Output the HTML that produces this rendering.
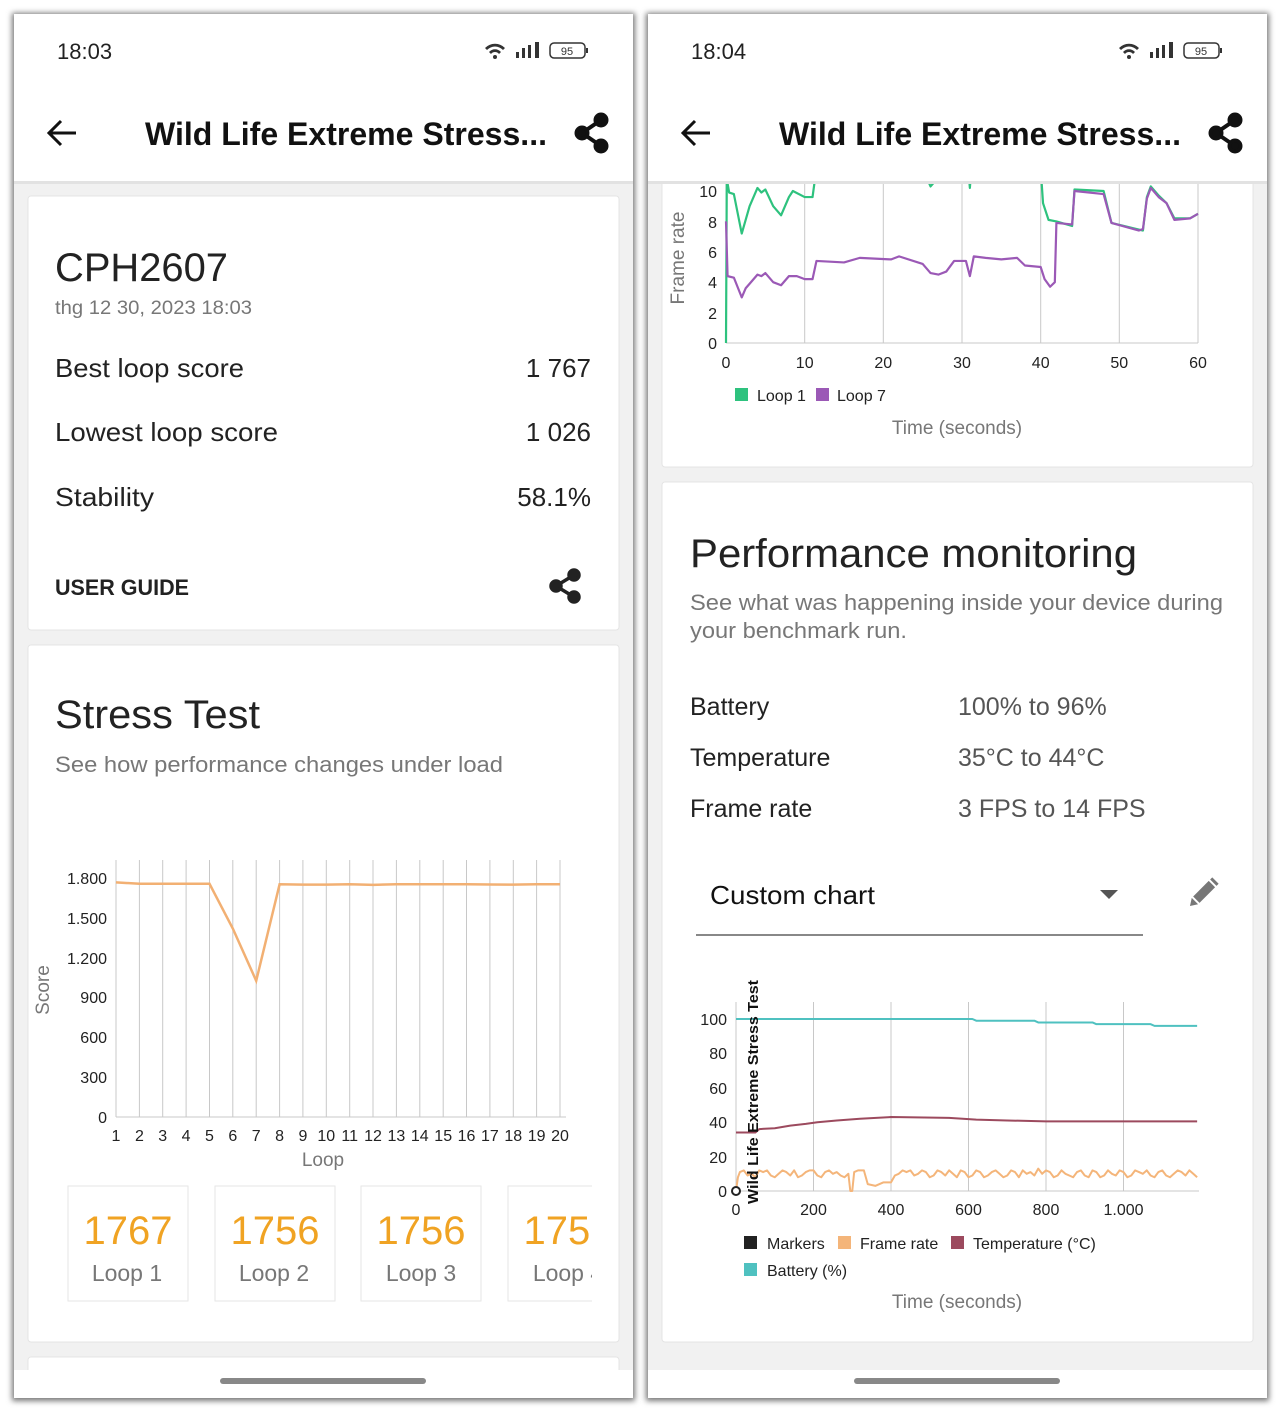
<!DOCTYPE html>
<html><head><meta charset="utf-8"><style>
html,body{margin:0;padding:0;background:#fff;}
svg{display:block;font-family:"Liberation Sans",Arial,sans-serif;}
</style></head><body>
<svg width="1280" height="1412" viewBox="0 0 1280 1412" xmlns="http://www.w3.org/2000/svg">
<defs>
<filter id="sh" x="-5%" y="-5%" width="110%" height="110%"><feGaussianBlur stdDeviation="3"/></filter>
<clipPath id="clipL"><rect x="14" y="181" width="619" height="1189"/></clipPath>
<clipPath id="clipR"><rect x="648" y="181" width="619" height="1189"/></clipPath>
<clipPath id="loopclip"><rect x="40" y="1170" width="552" height="150"/></clipPath>
</defs>
<rect width="1280" height="1412" fill="#fff"/>
<!-- phone frames shadow -->
<rect x="12" y="13" width="623" height="1388" fill="#777" filter="url(#sh)"/>
<rect x="646" y="13" width="623" height="1388" fill="#777" filter="url(#sh)"/>
<rect x="14" y="14" width="619" height="1384" fill="#f1f1f1"/>
<rect x="648" y="14" width="619" height="1384" fill="#f1f1f1"/>

<!-- ============ LEFT PHONE ============ -->
<g clip-path="url(#clipL)">
<rect x="28" y="196" width="591" height="434" rx="3" fill="#fff" stroke="#e4e4e4"/>
<text x="55" y="281" font-size="40" fill="#222" textLength="173" lengthAdjust="spacingAndGlyphs">CPH2607</text>
<text x="55" y="314" font-size="19" fill="#777" textLength="197" lengthAdjust="spacingAndGlyphs">thg 12 30, 2023 18:03</text>
<text x="55" y="377" font-size="26" fill="#222" textLength="189" lengthAdjust="spacingAndGlyphs">Best loop score</text>
<text x="591" y="377" font-size="26" fill="#222" text-anchor="end">1 767</text>
<text x="55" y="441" font-size="26" fill="#222" textLength="223" lengthAdjust="spacingAndGlyphs">Lowest loop score</text>
<text x="591" y="441" font-size="26" fill="#222" text-anchor="end">1 026</text>
<text x="55" y="506" font-size="26" fill="#222" textLength="99" lengthAdjust="spacingAndGlyphs">Stability</text>
<text x="591" y="506" font-size="26" fill="#222" text-anchor="end">58.1%</text>
<text x="55" y="595" font-size="22" font-weight="bold" fill="#222" textLength="134" lengthAdjust="spacingAndGlyphs">USER GUIDE</text>
<g fill="#222" stroke="#222" stroke-width="3.5"><line x1="574" y1="575" x2="556" y2="586"/><line x1="556" y1="586" x2="574" y2="597"/><circle cx="574" cy="575" r="5"/><circle cx="556" cy="586" r="5"/><circle cx="574" cy="597" r="5"/></g>

<rect x="28" y="645" width="591" height="697" rx="3" fill="#fff" stroke="#e4e4e4"/>
<text x="55" y="728" font-size="40" fill="#222" textLength="205" lengthAdjust="spacingAndGlyphs">Stress Test</text>
<text x="55" y="772" font-size="22" fill="#777" textLength="448" lengthAdjust="spacingAndGlyphs">See how performance changes under load</text>
<!-- score chart -->
<g stroke="#c8c8c8" stroke-width="1">
<line x1="116" y1="860" x2="116" y2="1117"/><line x1="139.4" y1="860" x2="139.4" y2="1117"/><line x1="162.7" y1="860" x2="162.7" y2="1117"/><line x1="186.1" y1="860" x2="186.1" y2="1117"/><line x1="209.5" y1="860" x2="209.5" y2="1117"/><line x1="232.8" y1="860" x2="232.8" y2="1117"/><line x1="256.2" y1="860" x2="256.2" y2="1117"/><line x1="279.6" y1="860" x2="279.6" y2="1117"/><line x1="302.9" y1="860" x2="302.9" y2="1117"/><line x1="326.3" y1="860" x2="326.3" y2="1117"/><line x1="349.7" y1="860" x2="349.7" y2="1117"/><line x1="373" y1="860" x2="373" y2="1117"/><line x1="396.4" y1="860" x2="396.4" y2="1117"/><line x1="419.8" y1="860" x2="419.8" y2="1117"/><line x1="443.2" y1="860" x2="443.2" y2="1117"/><line x1="466.5" y1="860" x2="466.5" y2="1117"/><line x1="489.9" y1="860" x2="489.9" y2="1117"/><line x1="513.3" y1="860" x2="513.3" y2="1117"/><line x1="536.6" y1="860" x2="536.6" y2="1117"/><line x1="560" y1="860" x2="560" y2="1117"/>
<line x1="116" y1="1117" x2="566" y2="1117"/>
</g>
<polyline fill="none" stroke="#f2b073" stroke-width="2.5" points="116,882.4 139.4,883.8 162.7,883.8 186.1,883.8 209.5,883.8 232.8,928.5 256.2,980.8 279.6,884.3 302.9,884.6 326.3,884.6 349.7,884.3 373,884.9 396.4,884.2 419.8,884.3 443.2,884.3 466.5,884.3 489.9,884.5 513.3,884.6 536.6,884.2 560,884.3"/>
<g font-size="16" fill="#222" text-anchor="end">
<text x="107" y="884">1.800</text><text x="107" y="924">1.500</text><text x="107" y="964">1.200</text><text x="107" y="1003">900</text><text x="107" y="1043">600</text><text x="107" y="1083">300</text><text x="107" y="1123">0</text>
</g>
<g font-size="16" fill="#222" text-anchor="middle">
<text x="116" y="1141">1</text><text x="139.4" y="1141">2</text><text x="162.7" y="1141">3</text><text x="186.1" y="1141">4</text><text x="209.5" y="1141">5</text><text x="232.8" y="1141">6</text><text x="256.2" y="1141">7</text><text x="279.6" y="1141">8</text><text x="302.9" y="1141">9</text><text x="326.3" y="1141">10</text><text x="349.7" y="1141">11</text><text x="373" y="1141">12</text><text x="396.4" y="1141">13</text><text x="419.8" y="1141">14</text><text x="443.2" y="1141">15</text><text x="466.5" y="1141">16</text><text x="489.9" y="1141">17</text><text x="513.3" y="1141">18</text><text x="536.6" y="1141">19</text><text x="560" y="1141">20</text>
</g>
<text x="323" y="1166" font-size="19" fill="#777" text-anchor="middle">Loop</text>
<text transform="translate(49,990) rotate(-90)" font-size="19" fill="#777" text-anchor="middle">Score</text>
<g clip-path="url(#loopclip)">
<g fill="#fff" stroke="#e6e6e6"><rect x="68" y="1186" width="120" height="115"/><rect x="215" y="1186" width="120" height="115"/><rect x="361" y="1186" width="120" height="115"/><rect x="508" y="1186" width="120" height="115"/></g>
<g font-size="40" fill="#f0a323" text-anchor="middle"><text x="128" y="1244">1767</text><text x="275" y="1244">1756</text><text x="421" y="1244">1756</text><text x="568" y="1244">1756</text></g>
<g font-size="23" fill="#777" text-anchor="middle"><text x="127" y="1281">Loop 1</text><text x="274" y="1281">Loop 2</text><text x="421" y="1281">Loop 3</text><text x="568" y="1281">Loop 4</text></g>
</g>
<rect x="28" y="1357" width="591" height="40" rx="3" fill="#fff" stroke="#e4e4e4"/>
</g>
<rect x="14" y="1370" width="619" height="28" fill="#fff"/>
<rect x="220" y="1378" width="206" height="6" rx="3" fill="#888"/>
<!-- left header -->
<rect x="14" y="14" width="619" height="167" fill="#fff"/>
<rect x="14" y="181" width="619" height="3" fill="#e2e2e2"/>
<text x="57" y="59" font-size="22" fill="#222">18:03</text>
<g fill="#333"><path d="M485 48 a14 14 0 0 1 20 0 l-2 2 a11 11 0 0 0 -16 0z M489 52 a8 8 0 0 1 12 0 l-2 2 a5 5 0 0 0 -8 0z"/><circle cx="495" cy="57" r="2"/><rect x="516" y="52" width="3" height="6"/><rect x="522" y="48" width="3" height="10"/><rect x="528" y="45" width="3" height="13"/><rect x="535" y="42" width="4" height="16"/></g>
<rect x="550" y="43" width="35" height="15" rx="4" fill="#fff" stroke="#333" stroke-width="1.5"/><rect x="586" y="48" width="2" height="5" fill="#333"/>
<text x="567" y="55" font-size="11" fill="#333" text-anchor="middle">95</text>
<g stroke="#111" stroke-width="3" fill="none"><line x1="49" y1="133" x2="76" y2="133"/><polyline points="61,121 49,133 61,145"/></g>
<text x="145" y="145" font-size="32" font-weight="bold" fill="#111" textLength="402" lengthAdjust="spacingAndGlyphs">Wild Life Extreme Stress...</text>
<g fill="#111" stroke="#111" stroke-width="4"><line x1="601" y1="120" x2="582" y2="133"/><line x1="582" y1="133" x2="601" y2="146"/><circle cx="601" cy="120" r="5.5"/><circle cx="582" cy="133" r="5.5"/><circle cx="601" cy="146" r="5.5"/></g>

<!-- ============ RIGHT PHONE ============ -->
<g clip-path="url(#clipR)">
<rect x="662" y="150" width="591" height="317" rx="3" fill="#fff" stroke="#e4e4e4"/>
<g stroke="#c8c8c8" stroke-width="1">
<line x1="726" y1="170" x2="726" y2="343"/><line x1="804.7" y1="170" x2="804.7" y2="343"/><line x1="883.3" y1="170" x2="883.3" y2="343"/><line x1="962" y1="170" x2="962" y2="343"/><line x1="1040.7" y1="170" x2="1040.7" y2="343"/><line x1="1119.3" y1="170" x2="1119.3" y2="343"/><line x1="1198" y1="170" x2="1198" y2="343"/>
<line x1="726" y1="343" x2="1198" y2="343"/>
</g>
<g transform="translate(726,343) scale(7.8667,-15.2)" fill="none" stroke-width="2.2" stroke-linejoin="round">
<polyline vector-effect="non-scaling-stroke" stroke="#2ec27e" points="0,0 0.1,10.8 0.4,9.9 1,9.8 2,7.2 3,9 4,10.2 4.5,9.9 5,10.1 6,9 7,8.4 8,9.6 8.5,10 10,9.6 11,9.6 11.5,11.5 25,11.5 26,10.3 27,10.9 27.5,11.5 30.8,11.5 31,10.2 31.2,11.5 40,11.5 40.3,9.2 41,8.1 42,8 44,7.7 44.3,10.1 48,10 49,7.9 53,7.4 53.5,9.6 54,10.3 55,9.7 56,9.2 57,8.2 59,8.2 60,8.5"/>
<polyline vector-effect="non-scaling-stroke" stroke="#9b59b6" points="0,8 0.2,4.4 1,4.3 2,3 2.5,3.6 3,3.9 4,4.5 4.5,4.4 5,4.6 6,4 7,3.8 8,4.4 9,4.4 10,4.2 11,4.2 11.5,5.4 15,5.3 17,5.6 21,5.5 22,5.7 25,5.2 26,4.6 27,4.5 28,4.7 29,5.4 30.5,5.4 31,4.4 31.5,5.7 33,5.6 35,5.5 37,5.6 38,5.1 40,5 40.5,4.2 41.2,3.7 41.8,4 42,7.9 44,7.8 44.3,10 48,9.8 49,7.9 52.5,7.4 53,7.5 53.5,9.5 54,10.2 55,9.6 56,9.2 57,8.1 59,8.2 60,8.5"/>
</g>
<g font-size="16" fill="#222" text-anchor="end"><text x="717" y="197">10</text><text x="717" y="228">8</text><text x="717" y="258">6</text><text x="717" y="288">4</text><text x="717" y="319">2</text><text x="717" y="349">0</text></g>
<g font-size="16" fill="#222" text-anchor="middle"><text x="726" y="368">0</text><text x="804.7" y="368">10</text><text x="883.3" y="368">20</text><text x="962" y="368">30</text><text x="1040.7" y="368">40</text><text x="1119.3" y="368">50</text><text x="1198" y="368">60</text></g>
<text transform="translate(684,258) rotate(-90)" font-size="19" fill="#777" text-anchor="middle">Frame rate</text>
<rect x="735" y="388" width="13" height="13" fill="#2ec27e"/><text x="757" y="401" font-size="16" fill="#222">Loop 1</text>
<rect x="816" y="388" width="13" height="13" fill="#9b59b6"/><text x="837" y="401" font-size="16" fill="#222">Loop 7</text>
<text x="957" y="434" font-size="19" fill="#777" text-anchor="middle">Time (seconds)</text>

<rect x="662" y="482" width="591" height="860" rx="3" fill="#fff" stroke="#e4e4e4"/>
<text x="690" y="567" font-size="40" fill="#222" textLength="447" lengthAdjust="spacingAndGlyphs">Performance monitoring</text>
<text x="690" y="610" font-size="22" fill="#777" textLength="533" lengthAdjust="spacingAndGlyphs">See what was happening inside your device during</text>
<text x="690" y="638" font-size="22" fill="#777" textLength="217" lengthAdjust="spacingAndGlyphs">your benchmark run.</text>
<g font-size="25" fill="#222"><text x="690" y="715">Battery</text><text x="690" y="766">Temperature</text><text x="690" y="817">Frame rate</text></g>
<g font-size="25" fill="#555"><text x="958" y="715">100% to 96%</text><text x="958" y="766">35°C to 44°C</text><text x="958" y="817">3 FPS to 14 FPS</text></g>
<text x="710" y="904" font-size="26" fill="#111" textLength="165" lengthAdjust="spacingAndGlyphs">Custom chart</text>
<polygon points="1100,890 1118,890 1109,899" fill="#555"/>
<rect x="696" y="934" width="447" height="2" fill="#888"/>
<g transform="translate(1202,894) rotate(45)" fill="#777"><rect x="-4.5" y="-14" width="9" height="22"/><polygon points="-4.5,10 4.5,10 0,17"/><rect x="-4.5" y="-19" width="9" height="3"/></g>
<!-- custom chart -->
<g stroke="#c8c8c8" stroke-width="1">
<line x1="736" y1="1002" x2="736" y2="1191"/><line x1="813.5" y1="1002" x2="813.5" y2="1191"/><line x1="891" y1="1002" x2="891" y2="1191"/><line x1="968.5" y1="1002" x2="968.5" y2="1191"/><line x1="1046" y1="1002" x2="1046" y2="1191"/><line x1="1123.5" y1="1002" x2="1123.5" y2="1191"/>
<line x1="736" y1="1191" x2="1199" y2="1191"/>
</g>
<g transform="translate(736,1191) scale(0.3875,-1.72)" fill="none" stroke-width="2" stroke-linejoin="round">
<polyline vector-effect="non-scaling-stroke" stroke="#4fc1c0" points="0,100 610,100 620,99 770,99 780,98 920,98 930,97 1070,97 1080,96 1190,96"/>
<polyline vector-effect="non-scaling-stroke" stroke="#9c4a5e" points="0,34 50,34 60,36 100,36.5 140,38 180,39 210,40 260,41 320,42 400,43 550,42.5 620,41.5 700,41 800,40.5 1190,40.5"/>
<polyline vector-effect="non-scaling-stroke" stroke="#f4b57a" points="0,0 5,8 10,11 20,12 30,9 40,10 50,8 60,12 70,11 80,12 90,9 100,8 110,10 120,12 130,11 140,9 150,12 160,8 170,9 180,11 190,12 200,12 210,9 220,8 230,11 240,12 250,10 260,11 270,9 280,8 290,10 295,0 300,0 305,11 315,12 330,12 340,4 360,3 380,5 400,5 410,9 420,10 430,12 440,11 450,12 460,9 470,10 480,12 490,11 500,8 510,9 520,12 530,11 540,9 550,12 560,10 570,8 580,12 590,11 600,8 610,9 620,12 630,11 640,8 650,9 660,11 670,12 680,10 690,8 700,9 710,12 720,11 730,8 740,12 750,10 760,11 770,9 780,13 790,10 800,12 810,11 820,8 830,9 840,12 850,10 860,9 870,8 880,11 890,12 900,9 910,8 920,12 930,11 940,8 950,9 960,12 970,10 980,9 990,12 1000,11 1010,8 1020,9 1030,12 1040,11 1050,10 1060,12 1070,9 1080,8 1090,11 1100,12 1110,9 1120,8 1130,10 1140,12 1150,11 1160,9 1170,12 1180,10 1190,8"/>
</g>
<circle cx="736" cy="1191" r="4" fill="#fff" stroke="#222" stroke-width="2"/>
<g font-size="16" fill="#222" text-anchor="end"><text x="727" y="1025">100</text><text x="727" y="1059">80</text><text x="727" y="1094">60</text><text x="727" y="1128">40</text><text x="727" y="1163">20</text><text x="727" y="1197">0</text></g>
<g font-size="16" fill="#222" text-anchor="middle"><text x="736" y="1215">0</text><text x="813.5" y="1215">200</text><text x="891" y="1215">400</text><text x="968.5" y="1215">600</text><text x="1046" y="1215">800</text><text x="1123.5" y="1215">1.000</text></g>
<text transform="translate(758,1204) rotate(-90)" font-size="15" font-weight="bold" fill="#111" textLength="224" lengthAdjust="spacingAndGlyphs">Wild Life Extreme Stress Test</text>
<rect x="744" y="1236" width="13" height="13" fill="#222"/><text x="767" y="1249" font-size="16" fill="#222">Markers</text>
<rect x="838" y="1236" width="13" height="13" fill="#f4b57a"/><text x="860" y="1249" font-size="16" fill="#222">Frame rate</text>
<rect x="951" y="1236" width="13" height="13" fill="#9c4a5e"/><text x="973" y="1249" font-size="16" fill="#222">Temperature (°C)</text>
<rect x="744" y="1263" width="13" height="13" fill="#4fc1c0"/><text x="767" y="1276" font-size="16" fill="#222">Battery (%)</text>
<text x="957" y="1308" font-size="19" fill="#777" text-anchor="middle">Time (seconds)</text>
</g>
<rect x="648" y="1370" width="619" height="28" fill="#fff"/>
<rect x="854" y="1378" width="206" height="6" rx="3" fill="#888"/>
<!-- right header -->
<rect x="648" y="14" width="619" height="167" fill="#fff"/>
<rect x="648" y="181" width="619" height="3" fill="#e2e2e2"/>
<text x="691" y="59" font-size="22" fill="#222">18:04</text>
<g fill="#333"><path d="M1119 48 a14 14 0 0 1 20 0 l-2 2 a11 11 0 0 0 -16 0z M1123 52 a8 8 0 0 1 12 0 l-2 2 a5 5 0 0 0 -8 0z"/><circle cx="1129" cy="57" r="2"/><rect x="1150" y="52" width="3" height="6"/><rect x="1156" y="48" width="3" height="10"/><rect x="1162" y="45" width="3" height="13"/><rect x="1169" y="42" width="4" height="16"/></g>
<rect x="1184" y="43" width="35" height="15" rx="4" fill="#fff" stroke="#333" stroke-width="1.5"/><rect x="1220" y="48" width="2" height="5" fill="#333"/>
<text x="1201" y="55" font-size="11" fill="#333" text-anchor="middle">95</text>
<g stroke="#111" stroke-width="3" fill="none"><line x1="683" y1="133" x2="710" y2="133"/><polyline points="695,121 683,133 695,145"/></g>
<text x="779" y="145" font-size="32" font-weight="bold" fill="#111" textLength="402" lengthAdjust="spacingAndGlyphs">Wild Life Extreme Stress...</text>
<g fill="#111" stroke="#111" stroke-width="4"><line x1="1235" y1="120" x2="1216" y2="133"/><line x1="1216" y1="133" x2="1235" y2="146"/><circle cx="1235" cy="120" r="5.5"/><circle cx="1216" cy="133" r="5.5"/><circle cx="1235" cy="146" r="5.5"/></g>
</svg>
</body></html>
